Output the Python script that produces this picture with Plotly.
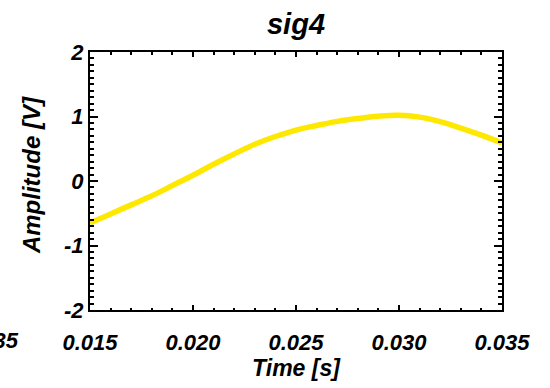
import plotly.graph_objects as go

# ---- data ----
time_s = [0.015, 0.016, 0.017, 0.018, 0.019, 0.020, 0.021, 0.022, 0.023, 0.024,
          0.025, 0.026, 0.027, 0.028, 0.029, 0.030, 0.031, 0.032, 0.033, 0.034, 0.035]
amplitude_v = [-0.65, -0.51, -0.37, -0.23, -0.07, 0.09, 0.26, 0.42, 0.57, 0.69,
               0.79, 0.86, 0.925, 0.97, 1.005, 1.02, 0.99, 0.92, 0.82, 0.71, 0.59]

x_tickvals = [0.015, 0.020, 0.025, 0.030, 0.035]
x_ticktext = ["0.015", "0.020", "0.025", "0.030", "0.035"]
y_tickvals = [-2, -1, 0, 1, 2]
y_ticktext = ["-2", "-1", "0", "1", "2"]

title_text = "sig4"
x_title = "Time [s]"
y_title = "Amplitude [V]"
neighbour_label = "0.035"

FONT = "Liberation Sans, Arial, Helvetica, sans-serif"

def bi(size):
    return dict(family=FONT, size=size, color="black", weight="bold", style="italic")

fig = go.Figure()
fig.add_trace(go.Scatter(
    x=time_s, y=amplitude_v, mode="lines",
    line=dict(color="#ffe800", width=5.5, shape="spline"),
    showlegend=False, hoverinfo="skip",
))

W, H = 550, 388
L, R, T, B = 90, 48, 52, 75
pw, ph = W - L - R, H - T - B

fig.update_layout(
    width=W, height=H,
    margin=dict(l=L, r=R, t=T, b=B, pad=0),
    paper_bgcolor="white", plot_bgcolor="white",
    title=dict(text=title_text, font=bi(29), x=(L + pw / 2) / W, xanchor="center",
               xref="container", yref="container", y=1 - 34 / H, yanchor="bottom"),
    xaxis=dict(
        range=[x_tickvals[0], x_tickvals[-1]],
        tickmode="array", tickvals=x_tickvals, ticktext=x_ticktext,
        ticks="inside", ticklen=5, tickwidth=1.5, tickcolor="black",
        showline=True, linewidth=2, linecolor="black", mirror="ticks",
        showgrid=False, zeroline=False,
        tickfont=bi(22), ticklabelstandoff=12,
        minor=dict(tickmode="linear", tick0=0.015, dtick=0.001, ticks="inside",
                   ticklen=2.5, tickwidth=1.5, tickcolor="black", showgrid=False),
        title=dict(text=x_title, font=bi(23), standoff=4),
    ),
    yaxis=dict(
        range=[-2, 2],
        tickmode="array", tickvals=y_tickvals, ticktext=y_ticktext,
        ticks="inside", ticklen=8, tickwidth=1.5, tickcolor="black",
        showline=True, linewidth=2, linecolor="black", mirror="ticks",
        showgrid=False, zeroline=False,
        tickfont=bi(22), ticklabelstandoff=0,
        minor=dict(tickmode="linear", tick0=0, dtick=0.1, ticks="inside",
                   ticklen=4, tickwidth=1.5, tickcolor="black", showgrid=False),
    ),
    annotations=[
        dict(text=y_title, textangle=-90, font=bi(24), showarrow=False,
             xref="paper", yref="paper", x=(31 - L) / pw, y=(H - B - 176.5) / ph,
             xanchor="center", yanchor="middle"),
        dict(text=neighbour_label, font=bi(22), showarrow=False,
             xref="paper", yref="paper", x=(21 - L) / pw, y=(H - B - 344) / ph,
             xanchor="right", yanchor="middle"),
    ],
)

fig.write_html("out.html", config={"displayModeBar": False},
               post_script="document.body.style.margin='0';document.body.style.overflow='hidden';")
